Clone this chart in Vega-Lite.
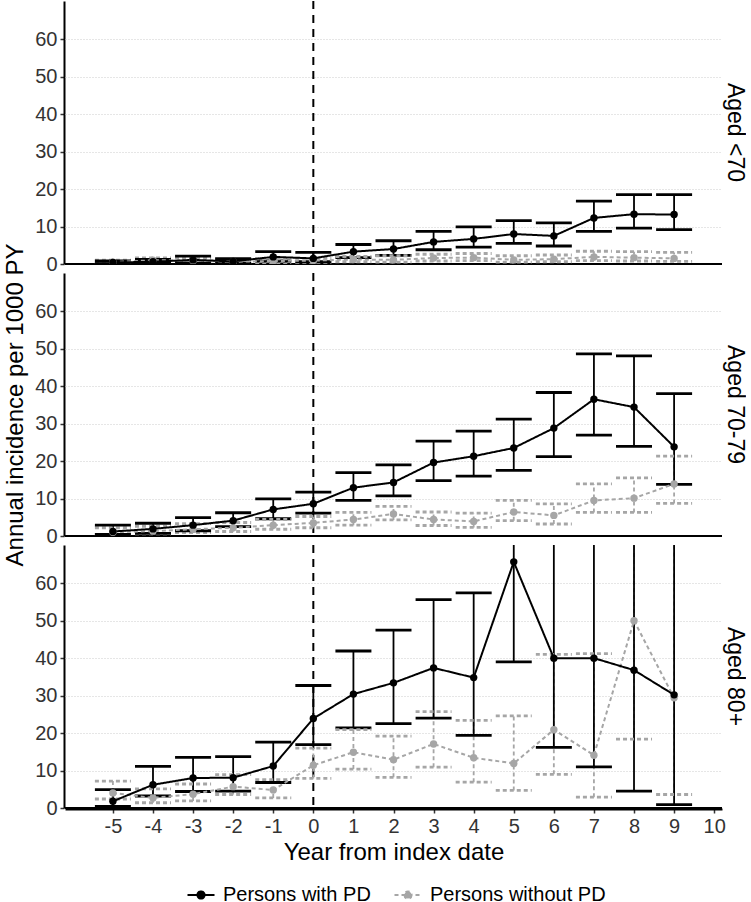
{
  "$schema": "https://vega.github.io/schema/vega-lite/v6.json",
  "background": "white",
  "padding": {"left": 3, "top": 0, "right": 0, "bottom": 0},
  "data": {
    "values": [
      {"age": "Aged <70", "group": "Persons without PD", "year": -5, "est": 0.5, "lo": 0.2, "hi": 1.0},
      {"age": "Aged <70", "group": "Persons without PD", "year": -4, "est": 1.0, "lo": 0.5, "hi": 1.6},
      {"age": "Aged <70", "group": "Persons without PD", "year": -3, "est": 0.9, "lo": 0.4, "hi": 1.6},
      {"age": "Aged <70", "group": "Persons without PD", "year": -2, "est": 0.6, "lo": 0.3, "hi": 1.2},
      {"age": "Aged <70", "group": "Persons without PD", "year": -1, "est": 0.8, "lo": 0.4, "hi": 1.4},
      {"age": "Aged <70", "group": "Persons without PD", "year": 0, "est": 0.9, "lo": 0.4, "hi": 1.5},
      {"age": "Aged <70", "group": "Persons without PD", "year": 1, "est": 1.2, "lo": 0.6, "hi": 2.0},
      {"age": "Aged <70", "group": "Persons without PD", "year": 2, "est": 1.1, "lo": 0.5, "hi": 2.2},
      {"age": "Aged <70", "group": "Persons without PD", "year": 3, "est": 1.6, "lo": 0.8, "hi": 2.6},
      {"age": "Aged <70", "group": "Persons without PD", "year": 4, "est": 1.7, "lo": 0.9, "hi": 2.8},
      {"age": "Aged <70", "group": "Persons without PD", "year": 5, "est": 1.1, "lo": 0.5, "hi": 2.2},
      {"age": "Aged <70", "group": "Persons without PD", "year": 6, "est": 1.3, "lo": 0.6, "hi": 2.4},
      {"age": "Aged <70", "group": "Persons without PD", "year": 7, "est": 1.9, "lo": 0.9, "hi": 3.4},
      {"age": "Aged <70", "group": "Persons without PD", "year": 8, "est": 1.7, "lo": 0.8, "hi": 3.3},
      {"age": "Aged <70", "group": "Persons without PD", "year": 9, "est": 1.5, "lo": 0.7, "hi": 3.1},
      {"age": "Aged 70-79", "group": "Persons without PD", "year": -5, "est": 1.0, "lo": 0.4, "hi": 2.2},
      {"age": "Aged 70-79", "group": "Persons without PD", "year": -4, "est": 1.3, "lo": 0.6, "hi": 2.6},
      {"age": "Aged 70-79", "group": "Persons without PD", "year": -3, "est": 1.8, "lo": 0.9, "hi": 3.3},
      {"age": "Aged 70-79", "group": "Persons without PD", "year": -2, "est": 2.2, "lo": 1.2, "hi": 3.6},
      {"age": "Aged 70-79", "group": "Persons without PD", "year": -1, "est": 2.9, "lo": 1.8, "hi": 4.4},
      {"age": "Aged 70-79", "group": "Persons without PD", "year": 0, "est": 3.5, "lo": 2.2, "hi": 5.2},
      {"age": "Aged 70-79", "group": "Persons without PD", "year": 1, "est": 4.4, "lo": 2.9, "hi": 6.3},
      {"age": "Aged 70-79", "group": "Persons without PD", "year": 2, "est": 5.9, "lo": 4.3, "hi": 7.9},
      {"age": "Aged 70-79", "group": "Persons without PD", "year": 3, "est": 4.4, "lo": 2.8, "hi": 6.4},
      {"age": "Aged 70-79", "group": "Persons without PD", "year": 4, "est": 3.9, "lo": 2.3, "hi": 6.1},
      {"age": "Aged 70-79", "group": "Persons without PD", "year": 5, "est": 6.4, "lo": 4.1, "hi": 9.5},
      {"age": "Aged 70-79", "group": "Persons without PD", "year": 6, "est": 5.5, "lo": 3.2, "hi": 8.6},
      {"age": "Aged 70-79", "group": "Persons without PD", "year": 7, "est": 9.5, "lo": 6.3, "hi": 13.9},
      {"age": "Aged 70-79", "group": "Persons without PD", "year": 8, "est": 10.1, "lo": 6.3, "hi": 15.5},
      {"age": "Aged 70-79", "group": "Persons without PD", "year": 9, "est": 13.9, "lo": 8.7, "hi": 21.3},
      {"age": "Aged 80+", "group": "Persons without PD", "year": -5, "est": 4.0, "lo": 2.4, "hi": 7.2},
      {"age": "Aged 80+", "group": "Persons without PD", "year": -4, "est": 2.7, "lo": 1.4, "hi": 5.1},
      {"age": "Aged 80+", "group": "Persons without PD", "year": -3, "est": 3.7, "lo": 1.9, "hi": 6.4},
      {"age": "Aged 80+", "group": "Persons without PD", "year": -2, "est": 5.7, "lo": 3.6, "hi": 8.9},
      {"age": "Aged 80+", "group": "Persons without PD", "year": -1, "est": 4.8, "lo": 2.7, "hi": 7.6},
      {"age": "Aged 80+", "group": "Persons without PD", "year": 0, "est": 11.4, "lo": 7.9, "hi": 16.0},
      {"age": "Aged 80+", "group": "Persons without PD", "year": 1, "est": 14.9, "lo": 10.4, "hi": 20.9},
      {"age": "Aged 80+", "group": "Persons without PD", "year": 2, "est": 12.9, "lo": 8.2, "hi": 19.2},
      {"age": "Aged 80+", "group": "Persons without PD", "year": 3, "est": 17.1, "lo": 10.9, "hi": 25.7},
      {"age": "Aged 80+", "group": "Persons without PD", "year": 4, "est": 13.4, "lo": 6.9, "hi": 23.4},
      {"age": "Aged 80+", "group": "Persons without PD", "year": 5, "est": 11.9, "lo": 4.7, "hi": 24.6},
      {"age": "Aged 80+", "group": "Persons without PD", "year": 6, "est": 20.9, "lo": 9.0, "hi": 41.0},
      {"age": "Aged 80+", "group": "Persons without PD", "year": 7, "est": 14.1, "lo": 2.9, "hi": 41.2},
      {"age": "Aged 80+", "group": "Persons without PD", "year": 8, "est": 50.0, "lo": 18.4, "hi": 90.0},
      {"age": "Aged 80+", "group": "Persons without PD", "year": 9, "est": 29.4, "lo": 3.6, "hi": 80.0},
      {"age": "Aged <70", "group": "Persons with PD", "year": -5, "est": 0.4, "lo": 0.1, "hi": 0.8},
      {"age": "Aged <70", "group": "Persons with PD", "year": -4, "est": 0.6, "lo": 0.2, "hi": 1.2},
      {"age": "Aged <70", "group": "Persons with PD", "year": -3, "est": 1.1, "lo": 0.3, "hi": 2.1},
      {"age": "Aged <70", "group": "Persons with PD", "year": -2, "est": 0.7, "lo": 0.2, "hi": 1.4},
      {"age": "Aged <70", "group": "Persons with PD", "year": -1, "est": 1.9, "lo": 0.8, "hi": 3.3},
      {"age": "Aged <70", "group": "Persons with PD", "year": 0, "est": 1.5, "lo": 0.6, "hi": 3.1},
      {"age": "Aged <70", "group": "Persons with PD", "year": 1, "est": 3.3, "lo": 1.7, "hi": 5.2},
      {"age": "Aged <70", "group": "Persons with PD", "year": 2, "est": 4.0, "lo": 2.3, "hi": 6.2},
      {"age": "Aged <70", "group": "Persons with PD", "year": 3, "est": 5.9, "lo": 3.8, "hi": 8.7},
      {"age": "Aged <70", "group": "Persons with PD", "year": 4, "est": 6.7, "lo": 4.5, "hi": 9.9},
      {"age": "Aged <70", "group": "Persons with PD", "year": 5, "est": 8.0, "lo": 5.5, "hi": 11.6},
      {"age": "Aged <70", "group": "Persons with PD", "year": 6, "est": 7.5, "lo": 4.8, "hi": 11.0},
      {"age": "Aged <70", "group": "Persons with PD", "year": 7, "est": 12.3, "lo": 8.7, "hi": 16.8},
      {"age": "Aged <70", "group": "Persons with PD", "year": 8, "est": 13.3, "lo": 9.6, "hi": 18.5},
      {"age": "Aged <70", "group": "Persons with PD", "year": 9, "est": 13.2, "lo": 9.2, "hi": 18.5},
      {"age": "Aged 70-79", "group": "Persons with PD", "year": -5, "est": 1.2, "lo": 0.4, "hi": 2.9},
      {"age": "Aged 70-79", "group": "Persons with PD", "year": -4, "est": 1.9, "lo": 0.7, "hi": 3.4},
      {"age": "Aged 70-79", "group": "Persons with PD", "year": -3, "est": 2.9, "lo": 1.4, "hi": 4.9},
      {"age": "Aged 70-79", "group": "Persons with PD", "year": -2, "est": 4.1, "lo": 2.5, "hi": 6.2},
      {"age": "Aged 70-79", "group": "Persons with PD", "year": -1, "est": 7.1, "lo": 4.6, "hi": 9.9},
      {"age": "Aged 70-79", "group": "Persons with PD", "year": 0, "est": 8.6, "lo": 6.1, "hi": 11.7},
      {"age": "Aged 70-79", "group": "Persons with PD", "year": 1, "est": 12.9, "lo": 9.5, "hi": 16.9},
      {"age": "Aged 70-79", "group": "Persons with PD", "year": 2, "est": 14.3, "lo": 10.7, "hi": 19.0},
      {"age": "Aged 70-79", "group": "Persons with PD", "year": 3, "est": 19.6, "lo": 14.8, "hi": 25.3},
      {"age": "Aged 70-79", "group": "Persons with PD", "year": 4, "est": 21.3, "lo": 16.0, "hi": 28.0},
      {"age": "Aged 70-79", "group": "Persons with PD", "year": 5, "est": 23.5, "lo": 17.5, "hi": 31.2},
      {"age": "Aged 70-79", "group": "Persons with PD", "year": 6, "est": 28.8, "lo": 21.2, "hi": 38.3},
      {"age": "Aged 70-79", "group": "Persons with PD", "year": 7, "est": 36.5, "lo": 26.9, "hi": 48.6},
      {"age": "Aged 70-79", "group": "Persons with PD", "year": 8, "est": 34.4, "lo": 23.9, "hi": 48.1},
      {"age": "Aged 70-79", "group": "Persons with PD", "year": 9, "est": 23.8, "lo": 13.8, "hi": 38.0},
      {"age": "Aged 80+", "group": "Persons with PD", "year": -5, "est": 1.8, "lo": 0.4, "hi": 4.9},
      {"age": "Aged 80+", "group": "Persons with PD", "year": -4, "est": 6.2, "lo": 3.2, "hi": 11.1},
      {"age": "Aged 80+", "group": "Persons with PD", "year": -3, "est": 8.0, "lo": 4.4, "hi": 13.5},
      {"age": "Aged 80+", "group": "Persons with PD", "year": -2, "est": 8.1, "lo": 4.5, "hi": 13.7},
      {"age": "Aged 80+", "group": "Persons with PD", "year": -1, "est": 11.2, "lo": 6.8, "hi": 17.6},
      {"age": "Aged 80+", "group": "Persons with PD", "year": 0, "est": 23.9, "lo": 16.9, "hi": 32.7},
      {"age": "Aged 80+", "group": "Persons with PD", "year": 1, "est": 30.4, "lo": 21.4, "hi": 41.9},
      {"age": "Aged 80+", "group": "Persons with PD", "year": 2, "est": 33.4, "lo": 22.5, "hi": 47.5},
      {"age": "Aged 80+", "group": "Persons with PD", "year": 3, "est": 37.4, "lo": 24.0, "hi": 55.6},
      {"age": "Aged 80+", "group": "Persons with PD", "year": 4, "est": 34.8, "lo": 19.4, "hi": 57.4},
      {"age": "Aged 80+", "group": "Persons with PD", "year": 5, "est": 65.7, "lo": 39.0, "hi": 95.0},
      {"age": "Aged 80+", "group": "Persons with PD", "year": 6, "est": 40.0, "lo": 16.2, "hi": 85.0},
      {"age": "Aged 80+", "group": "Persons with PD", "year": 7, "est": 40.0, "lo": 11.0, "hi": 100.0},
      {"age": "Aged 80+", "group": "Persons with PD", "year": 8, "est": 36.8, "lo": 4.5, "hi": 110.0},
      {"age": "Aged 80+", "group": "Persons with PD", "year": 9, "est": 30.2, "lo": 0.9, "hi": 120.0}
    ]
  },
  "facet": {
    "row": {
      "field": "age",
      "type": "nominal",
      "title": "Annual incidence per 1000 PY",
      "sort": ["Aged <70", "Aged 70-79", "Aged 80+"],
      "header": {
        "labelOrient": "right",
        "labelAngle": 90,
        "labelPadding": 0,
        "titleOrient": "left",
        "titleFontSize": 24,
        "titleFontWeight": "normal",
        "titleColor": "#000000",
        "titlePadding": -4
      }
    }
  },
  "spacing": {"row": 7},
  "spec": {
    "width": 657,
    "height": 263,
    "encoding": {
      "x": {
        "field": "year",
        "type": "quantitative",
        "title": "Year from index date",
        "scale": {"domain": [-6.195, 10.195], "nice": false, "zero": false},
        "axis": {
          "values": [-5, -4, -3, -2, -1, 0, 1, 2, 3, 4, 5, 6, 7, 8, 9, 10],
          "labelExpr": "datum.value + ''",
          "grid": false,
          "titlePadding": 4
        }
      }
    },
    "layer": [
      {
        "transform": [{"filter": "datum.year == 0 && datum.group == 'Persons with PD'"}],
        "mark": {"type": "rule", "color": "#000000", "strokeWidth": 2, "strokeDash": [8, 6]},
        "encoding": {}
      },
      {
        "transform": [{"filter": "datum.year == 0 && datum.group == 'Persons with PD'"}],
        "mark": {"type": "rule", "color": "#000000", "strokeWidth": 2},
        "encoding": {
          "x": {"value": 0},
          "x2": {"value": 657},
          "y": {
            "datum": 0,
            "type": "quantitative",
            "title": null,
            "scale": {"domain": [0, 70.2], "nice": false, "zero": true},
            "axis": {
              "values": [0, 10, 20, 30, 40, 50, 60],
              "grid": true,
              "gridColor": "#cccccc",
              "gridDash": [1, 2],
              "gridWidth": 1
            }
          }
        }
      },
      {
        "mark": {"type": "rule", "strokeWidth": 1.8, "clip": true},
        "encoding": {
          "y": {"field": "lo", "type": "quantitative", "title": null},
          "y2": {"field": "hi"},
          "color": {"field": "group", "type": "nominal"},
          "strokeDash": {"field": "group", "type": "nominal"}
        }
      },
      {
        "mark": {"type": "point", "shape": "M-1,0H1", "size": 1296, "filled": false, "opacity": 1, "strokeWidth": 2.8, "clip": true},
        "encoding": {
          "y": {"field": "lo", "type": "quantitative", "title": null},
          "color": {"field": "group", "type": "nominal"},
          "strokeDash": {"field": "group", "type": "nominal"}
        }
      },
      {
        "mark": {"type": "point", "shape": "M-1,0H1", "size": 1296, "filled": false, "opacity": 1, "strokeWidth": 2.8, "clip": true},
        "encoding": {
          "y": {"field": "hi", "type": "quantitative", "title": null},
          "color": {"field": "group", "type": "nominal"},
          "strokeDash": {"field": "group", "type": "nominal"}
        }
      },
      {
        "mark": {"type": "line", "strokeWidth": 2, "clip": true},
        "encoding": {
          "y": {"field": "est", "type": "quantitative", "title": null},
          "color": {
            "field": "group",
            "type": "nominal",
            "scale": {"domain": ["Persons with PD", "Persons without PD"], "range": ["#000000", "#A6A6A6"]},
            "legend": {
              "title": null,
              "orient": "none",
              "direction": "horizontal",
              "legendX": 126,
              "legendY": 884,
              "symbolType": "M-1.5,0H1.5M0.4,0A0.4,0.4,0,1,1,-0.4,0A0.4,0.4,0,1,1,0.4,0",
              "symbolSize": 324,
              "symbolStrokeWidth": 2,
              "labelFontSize": 20,
              "labelOffset": 12,
              "labelLimit": 400,
              "columnPadding": 19,
              "labelColor": "#000000",
              "encode": {"symbols": {"update": {"fill": {"scale": "color", "field": "value"}}}}
            }
          },
          "strokeDash": {
            "field": "group",
            "type": "nominal",
            "scale": {"domain": ["Persons with PD", "Persons without PD"], "range": [[1, 0], [4, 3]]}
          }
        }
      },
      {
        "mark": {"type": "point", "filled": true, "size": 55, "opacity": 1, "clip": true},
        "encoding": {
          "y": {"field": "est", "type": "quantitative", "title": null},
          "color": {"field": "group", "type": "nominal"}
        }
      }
    ]
  },
  "config": {
    "font": "Liberation Sans",
    "view": {"stroke": null},
    "axis": {
      "labelFontSize": 20,
      "labelColor": "#333333",
      "titleFontSize": 24,
      "titleFontWeight": "normal",
      "titleColor": "#000000",
      "domainColor": "#000000",
      "domainWidth": 2,
      "tickColor": "#333333",
      "tickWidth": 1.5,
      "tickSize": 4,
      "labelPadding": 3
    },
    "header": {"labelFontSize": 23, "labelColor": "#000000", "labelFont": "Liberation Sans", "titleFont": "Liberation Sans"}
  }
}
